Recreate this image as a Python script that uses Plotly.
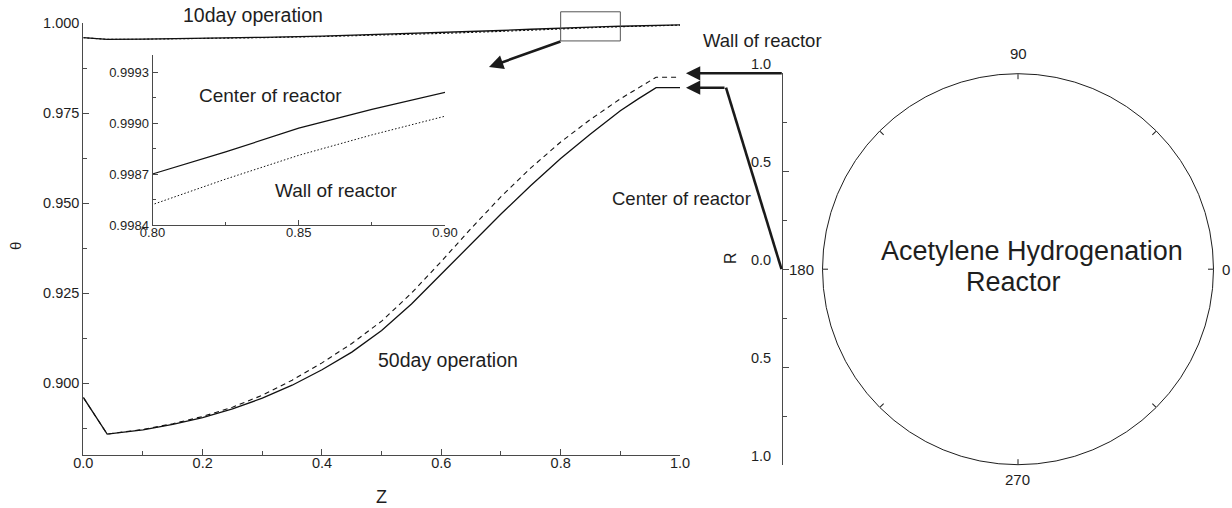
import plotly.graph_objects as go

W, H = 1232, 508
FONT = "Liberation Sans"
INK = "#1e1e1e"
AXC = "#4a4a4a"

# ---- data -------------------------------------------------------------
# 50 days on stream: axial position Z and dimensionless temperature
z50 = [0.0, 0.04, 0.1, 0.15, 0.2, 0.25, 0.3, 0.35, 0.4, 0.45, 0.5,
       0.55, 0.6, 0.65, 0.7, 0.75, 0.8, 0.85, 0.9, 0.93, 0.96, 1.0]
theta50_center = [0.8960, 0.8858, 0.8870, 0.8885, 0.8904, 0.8928, 0.8958,
                  0.8994, 0.9037, 0.9086, 0.9146, 0.9220, 0.9303, 0.9388,
                  0.9470, 0.9549, 0.9624, 0.9692, 0.9757, 0.9790, 0.9821, 0.9821]
theta50_wall = [0.8960, 0.8858, 0.8871, 0.8887, 0.8907, 0.8933, 0.8966,
                0.9008, 0.9056, 0.9110, 0.9172, 0.9250, 0.9338, 0.9430,
                0.9518, 0.9598, 0.9670, 0.9733, 0.9790, 0.9821, 0.9850, 0.9850]

# 10 days on stream
z10 = [0.0, 0.04, 0.1, 0.2, 0.3, 0.4, 0.5, 0.6, 0.7, 0.75, 0.8,
       0.825, 0.85, 0.875, 0.9, 0.95, 1.0]
theta10_center = [0.99600, 0.99555, 0.99560, 0.99580, 0.99610, 0.99645,
                  0.99690, 0.99740, 0.99800, 0.99835, 0.99870, 0.99883,
                  0.99897, 0.99908, 0.99918, 0.99940, 0.99958]
theta10_wall = [0.99600, 0.99555, 0.99558, 0.99575, 0.99600, 0.99632,
                0.99672, 0.99718, 0.99775, 0.99812, 0.99852, 0.99867,
                0.99881, 0.99893, 0.99904, 0.99928, 0.99948]

# tick setup
main_y_ticks = [0.900, 0.925, 0.950, 0.975, 1.000]
inset_x_ticks = [0.80, 0.85, 0.90]
inset_y_ticks = [0.9984, 0.9987, 0.9990, 0.9993]
r_ticks = [-1.0, -0.5, 0.0, 0.5, 1.0]
r_tick_text = ["1.0", "0.5", "0.0", "0.5", "1.0"]
angle_ticks = [0, 45, 90, 135, 180, 225, 270, 315]
angle_labels = [0, 90, 180, 270]

# zoom window marked on the main plot
zoom_z = [0.80, 0.90]
zoom_theta = [0.9951, 1.0032]

# ---- geometry (paper fractions) --------------------------------------
def px(x):
    return x / W

def py(y):
    return 1 - y / H

X_DOM = [px(83.3), px(680)]
Y_DOM = [py(455), py(23.3)]
X_RNG = [0.0, 1.0]
Y_RNG = [0.88, 1.0]

IN_X_DOM = [px(152.5), px(445)]
IN_Y_DOM = [py(225), py(55)]

R_X = 783.3
R_DOM = [py(465), py(73.3)]
POL_CX, POL_CY, POL_R = 1018.0, 269.2, 195.5
POL_X = [px(POL_CX - POL_R), px(POL_CX + POL_R)]


def zx(v):
    return X_DOM[0] + (v - X_RNG[0]) / (X_RNG[1] - X_RNG[0]) * (X_DOM[1] - X_DOM[0])


def zy(v):
    return Y_DOM[0] + (v - Y_RNG[0]) / (Y_RNG[1] - Y_RNG[0]) * (Y_DOM[1] - Y_DOM[0])


def ry(v):
    return R_DOM[0] + (v + 1) / 2 * (R_DOM[1] - R_DOM[0])


fig = go.Figure()

line_solid = dict(color="#111111", width=1.3)
fig.add_trace(go.Scatter(x=z10, y=theta10_center, mode="lines", line=line_solid))
fig.add_trace(go.Scatter(x=z10, y=theta10_wall, mode="lines",
                         line=dict(color="#111111", width=1.1, dash="2px,2px")))
fig.add_trace(go.Scatter(x=z50, y=theta50_center, mode="lines", line=line_solid))
fig.add_trace(go.Scatter(x=z50, y=theta50_wall, mode="lines",
                         line=dict(color="#111111", width=1.1, dash="5px,4px")))

# inset: the 10-day profiles near the outlet
fig.add_trace(go.Scatter(x=z10, y=theta10_center, mode="lines",
                         line=dict(color="#111111", width=1.2),
                         xaxis="x2", yaxis="y2"))
fig.add_trace(go.Scatter(x=z10, y=theta10_wall, mode="lines",
                         line=dict(color="#111111", width=1.0, dash="1.5px,2px"),
                         xaxis="x2", yaxis="y2"))

# radial scale of the reactor cross-section
fig.add_trace(go.Scatter(x=[], y=[], xaxis="x3", yaxis="y3"))
# cross-section outline
fig.add_trace(go.Scatterpolar(r=[], theta=[], subplot="polar"))

axis_common = dict(showline=True, linecolor=AXC, linewidth=1, showgrid=False,
                   zeroline=False, ticks="inside", tickcolor=AXC, automargin=False,
                   tickfont=dict(family=FONT, size=14.5, color=INK))

fig.update_layout(
    template="none",
    width=W, height=H,
    margin=dict(l=0, r=0, t=0, b=0, pad=0, autoexpand=False),
    paper_bgcolor="white", plot_bgcolor="rgba(0,0,0,0)",
    showlegend=False,
    font=dict(family=FONT, color=INK),
    xaxis=dict(axis_common, domain=X_DOM, range=X_RNG, anchor="y",
               dtick=0.2, tick0=0, tickformat=".1f", ticklen=6,
               ticklabelstandoff=-5,
               minor=dict(ticks="inside", dtick=0.1, ticklen=4, tickcolor=AXC)),
    yaxis=dict(axis_common, domain=Y_DOM, range=Y_RNG, anchor="x",
               tickvals=main_y_ticks, tickformat=".3f", ticklen=6,
               minor=dict(ticks="inside", dtick=0.0125, tick0=0.9,
                          ticklen=4, tickcolor=AXC)),
    xaxis2=dict(axis_common, domain=IN_X_DOM, range=[0.80, 0.90], anchor="y2",
                tickvals=inset_x_ticks, tickformat=".2f", ticklen=5,
                ticklabelstandoff=-5,
                tickfont=dict(family=FONT, size=13, color=INK),
                minor=dict(ticks="inside", tickvals=[0.825, 0.875],
                           ticklen=3, tickcolor=AXC)),
    yaxis2=dict(axis_common, domain=IN_Y_DOM, range=[0.9984, 0.9994], anchor="x2",
                tickvals=inset_y_ticks, tickformat=".4f", ticklen=5,
                tickfont=dict(family=FONT, size=13, color=INK),
                minor=dict(ticks="inside", tickvals=[0.99855, 0.99885, 0.99915],
                           ticklen=3, tickcolor=AXC)),
    xaxis3=dict(domain=[px(R_X), px(R_X + 10)], range=[0, 1], anchor="y3",
                visible=False),
    yaxis3=dict(axis_common, domain=R_DOM, range=[-1, 1], anchor="x3",
                tickvals=r_ticks, showticklabels=False, ticklen=6,
                minor=dict(ticks="inside", tickvals=[-0.75, -0.25, 0.25, 0.75],
                           ticklen=4, tickcolor=AXC)),
    polar=dict(
        domain=dict(x=POL_X, y=[py(POL_CY + POL_R), py(POL_CY - POL_R)]),
        bgcolor="white",
        radialaxis=dict(visible=False, range=[0, 1]),
        angularaxis=dict(rotation=0, direction="counterclockwise",
                         tickmode="array", tickvals=angle_ticks,
                         showticklabels=False,
                         ticks="inside", ticklen=5, tickcolor=INK,
                         showline=True, linecolor=INK, linewidth=1,
                         showgrid=False),
    ),
)

ann = []


def label(text, x, y, size=19.5, **kw):
    ann.append(dict(text=text, x=px(x), y=py(y), xref="paper", yref="paper",
                    showarrow=False, xanchor="center", yanchor="middle",
                    font=dict(family=FONT, size=size, color=INK), **kw))


label("10day operation", 253, 15)
label("50day operation", 448, 360)
label("Center of reactor", 270, 95, size=19)
label("Wall of reactor", 336, 190, size=19)
label("Wall of reactor", 763, 41, size=18.5)
label("Center of reactor", 681, 199, size=18.5)
label("Acetylene Hydrogenation", 1032, 251, size=27)
label("Reactor", 1013, 282, size=27)
label("Z", 381.5, 497, size=18)
label("θ", 15, 246, size=15, textangle=-90)
label("R", 730, 258, size=16, textangle=-90)

# radial tick labels sit just above their ticks
for v, t in zip(r_ticks, r_tick_text):
    ann.append(dict(text=t, x=px(R_X - 10), y=v, xref="paper", yref="y3",
                    xanchor="right", yanchor="middle", yshift=9, showarrow=False,
                    font=dict(family=FONT, size=14.5, color=INK)))

# angle labels around the cross-section
ang_pos = {0: (POL_CX + POL_R + 6, POL_CY, "left"),
           90: (POL_CX, POL_CY - POL_R - 20, "center"),
           180: (POL_CX - POL_R - 6, POL_CY, "right"),
           270: (POL_CX - 1, POL_CY + POL_R + 15, "center")}
for a in angle_labels:
    x, y, anchor = ang_pos[a]
    ann.append(dict(text=str(a), x=px(x), y=py(y), xref="paper", yref="paper",
                    xanchor=anchor, yanchor="middle", showarrow=False,
                    font=dict(family=FONT, size=15, color=INK)))

ARROW = dict(text="", showarrow=True, axref="pixel", ayref="pixel",
             arrowhead=2, arrowsize=1.1, arrowwidth=2.6, arrowcolor="#1a1a1a",
             xref="paper", yref="paper")
head_x = zx(1.01)
# arrow from the zoom window to the inset
ann.append(dict(ARROW, x=px(489), y=py(67), ax=73, ay=-26))
# wall (R = 1) and centre (R = 0) pointers to the 50-day outlet values
ann.append(dict(ARROW, x=head_x, y=ry(1.0), ax=R_X - head_x * W, ay=0))
ann.append(dict(ARROW, x=head_x, y=zy(theta50_center[-1]), ax=726 - head_x * W, ay=0))

fig.update_layout(annotations=ann)

shapes = [
    # zoom window on the 10-day curves
    dict(type="rect", xref="paper", yref="paper",
         x0=zx(zoom_z[0]), x1=zx(zoom_z[1]),
         y0=zy(zoom_theta[0]), y1=zy(zoom_theta[1]),
         line=dict(color="#555555", width=1)),
    # leader from the reactor centre to the centre-line pointer
    dict(type="line", xref="paper", yref="paper",
         x0=px(R_X - 1.8), y0=ry(0.0), x1=px(726), y1=zy(theta50_center[-1]),
         line=dict(color="#1a1a1a", width=2.6)),
]
fig.update_layout(shapes=shapes)

fig.write_html("out.html")
